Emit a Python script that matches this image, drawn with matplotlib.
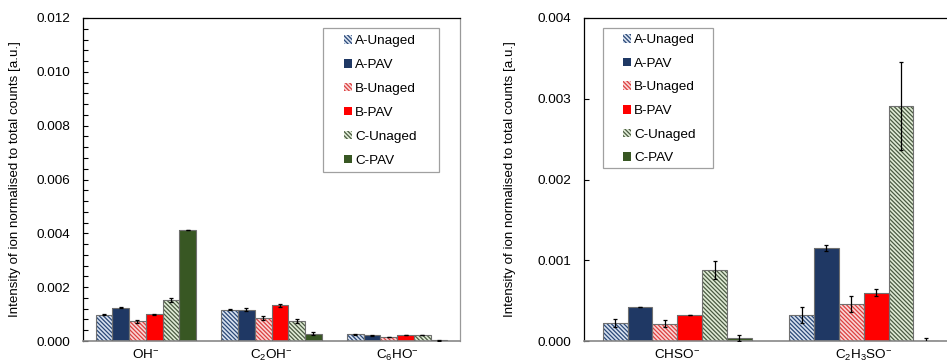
import numpy as np
import matplotlib
matplotlib.use("Agg")
import matplotlib.pyplot as plt
from matplotlib.patches import Patch, Rectangle

plt.rcParams["font.family"] = ["Liberation Sans", "DejaVu Sans"]
plt.rcParams["mathtext.fontset"] = "custom"
plt.rcParams["mathtext.rm"] = "Liberation Sans"
plt.rcParams["mathtext.it"] = "Liberation Sans"
plt.rcParams["hatch.linewidth"] = 0.9

# ---- data ----
series = ["A-Unaged", "A-PAV", "B-Unaged", "B-PAV", "C-Unaged", "C-PAV"]

oxy_ions = [r"OH$^{\mathregular{-}}$", r"C$_{\mathregular{2}}$OH$^{\mathregular{-}}$",
            r"C$_{\mathregular{6}}$HO$^{\mathregular{-}}$"]
# rows: series, columns: ions
oxy_values = [
    [0.00098, 0.00117, 0.00025],
    [0.00124, 0.00117, 0.00021],
    [0.00073, 0.00086, 0.00015],
    [0.00099, 0.00132, 0.00022],
    [0.00151, 0.00075, 0.00022],
    [0.00412, 0.00027, 0.00002],
]
oxy_errors = [
    [0.00002, 0.00003, 0.00001],
    [0.00003, 0.00004, 0.00001],
    [0.00006, 0.00007, 0.00001],
    [0.00001, 0.00006, 0.00001],
    [0.00007, 0.00008, 0.00001],
    [0.00001, 0.00005, 0.00001],
]

sulf_ions = [r"CHSO$^{\mathregular{-}}$",
             r"C$_{\mathregular{2}}$H$_{\mathregular{3}}$SO$^{\mathregular{-}}$"]
sulf_values = [
    [0.000223, 0.000318],
    [0.000418, 0.001150],
    [0.000215, 0.000455],
    [0.000318, 0.000600],
    [0.000877, 0.002910],
    [0.000037, 0.000005],
]
sulf_errors = [
    [0.00005, 0.00010],
    [0.0, 0.00004],
    [0.00004, 0.00010],
    [0.0, 0.00004],
    [0.00011, 0.00054],
    [0.00004, 0.00003],
]

# ---- styles ----
face = ["#d8e2f0", "#1f3864", "#fad6d6", "#ff0000", "#e0ecd6", "#385723"]
hatch_col = ["#2a4877", "#1f3864", "#dc4040", "#ff0000", "#4a5a42", "#385723"]
dense = "\\" * 8
hatches = [dense, None, dense, None, dense, None]
edge = "#707070"
n = len(series)
width = 0.8 / n


def draw_panel(ax, ions, values, errors):
    x = np.arange(len(ions))
    for i in range(n):
        pos = x + (i - (n - 1) / 2) * width
        ax.bar(pos, values[i], width, color=face[i], edgecolor=hatch_col[i],
               hatch=hatches[i], linewidth=0, zorder=2)
        ax.bar(pos, values[i], width, fill=False, edgecolor=edge,
               linewidth=0.8, zorder=3)
        ax.errorbar(pos, values[i], yerr=errors[i], fmt="none", ecolor="black",
                    elinewidth=0.9, capsize=1.6, capthick=0.9, zorder=4)
    ax.set_xticks(x)
    ax.set_xticklabels(ions, fontsize=9.7)
    ax.tick_params(axis="x", length=0, pad=5)
    ax.tick_params(axis="y", which="both", direction="in", length=3.5,
                   width=0.8, labelsize=9.7, pad=9)
    ax.set_ylabel("Intensity of ion normalised to total counts [a.u.]",
                  fontsize=9.6)
    for s in ("left", "top"):
        ax.spines[s].set_color("black")
        ax.spines[s].set_linewidth(0.9)
    ax.spines["bottom"].set_color("#888888")
    ax.spines["bottom"].set_linewidth(1.2)
    ax.spines["right"].set_color("#999999")
    ax.spines["right"].set_linewidth(0.9)


def draw_legend(ax, box, anchor, spacing):
    handles = [Patch(facecolor=face[i], edgecolor=hatch_col[i], hatch=hatches[i],
                     linewidth=0) for i in range(n)]
    ax.add_patch(Rectangle((box[0], box[1]), box[2], box[3], transform=ax.transAxes,
                           facecolor="white", edgecolor="#a0a0a0", linewidth=0.9,
                           zorder=5))
    leg = ax.legend(handles, series, loc="upper left", bbox_to_anchor=anchor,
                    frameon=False, fontsize=9.7, borderpad=0, borderaxespad=0,
                    handlelength=0.6, handleheight=0.6, handletextpad=0.25,
                    labelspacing=spacing)
    leg.set_zorder(6)


fig = plt.figure(figsize=(9.47, 3.63), dpi=100)
W, H = 947, 363

ax1 = fig.add_axes([83 / W, 1 - 341 / H, 377 / W, 323 / H])
draw_panel(ax1, oxy_ions, oxy_values, oxy_errors)
ax1.set_xlim(-0.5, 2.5)
ax1.set_ylim(0, 0.012)
ax1.set_yticks(np.arange(0, 0.0121, 0.002))
ax1.set_yticks(np.arange(0, 0.0121, 0.0004), minor=True)
ax1.yaxis.set_major_formatter(matplotlib.ticker.FormatStrFormatter("%.3f"))
ax1.yaxis.set_label_coords(-0.164, 0.5)
draw_legend(ax1, (0.637, 0.523, 0.307, 0.446), (0.692, 0.947), 0.88)

ax2 = fig.add_axes([584 / W, 1 - 341 / H, 559.5 / W, 323 / H])
draw_panel(ax2, sulf_ions, sulf_values, sulf_errors)
ax2.set_xlim(-0.5, 2.5)
ax2.set_ylim(0, 0.004)
ax2.set_yticks(np.arange(0, 0.00401, 0.001))
ax2.yaxis.set_major_formatter(matplotlib.ticker.FormatStrFormatter("%.3f"))
ax2.yaxis.set_label_coords(-0.121, 0.5)
draw_legend(ax2, (0.034, 0.536, 0.197, 0.433), (0.069, 0.950), 0.86)

fig.savefig("out.png", dpi=100)
